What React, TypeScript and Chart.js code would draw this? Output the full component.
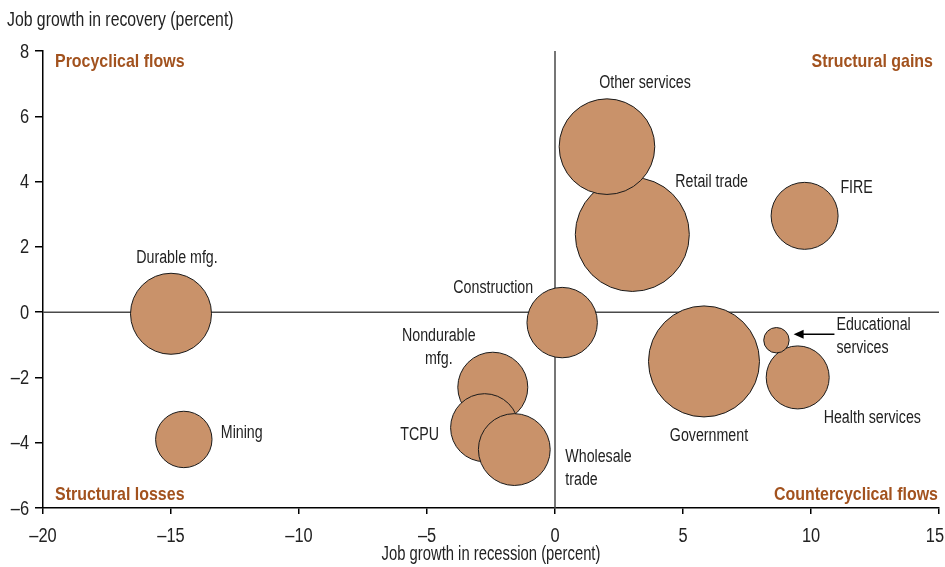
import React, { useEffect, useRef } from "react";
import Chart from "chart.js/auto";

const categories = [
  "Durable mfg.",
  "Mining",
  "Retail trade",
  "Other services",
  "FIRE",
  "Construction",
  "Nondurable mfg.",
  "TCPU",
  "Wholesale trade",
  "Government",
  "Health services",
  "Educational services",
];
const recessionGrowth = [-15.0, -14.5, 3.02, 2.03, 9.75, 0.28, -2.43, -2.75, -1.59, 5.82, 9.48, 8.65];
const recoveryGrowth = [-0.05, -3.9, 2.38, 5.07, 2.95, -0.32, -2.3, -3.54, -4.21, -1.51, -2.0, -0.86];
const bubbleSize = [41, 28.7, 57.5, 48.3, 34, 35.7, 35.5, 34.5, 36.4, 56, 32, 13.2];
const labelLines = [
  ["Durable mfg."],
  ["Mining"],
  ["Retail trade"],
  ["Other services"],
  ["FIRE"],
  ["Construction"],
  ["Nondurable", "mfg."],
  ["TCPU"],
  ["Wholesale", "trade"],
  ["Government"],
  ["Health services"],
  ["Educational", "services"],
];
const xTicks = [-20, -15, -10, -5, 0, 5, 10, 15];
const yTicks = [-6, -4, -2, 0, 2, 4, 6, 8];
const quadrantLabels = ["Procyclical flows", "Structural gains", "Structural losses", "Countercyclical flows"];
const xTitle = "Job growth in recession (percent)";
const yTitle = "Job growth in recovery (percent)";

// label placement relative to each bubble centre (layout only)
const labelPlacement: { dx: number; dy: number; align: CanvasTextAlign }[] = [
  { dx: 6, dy: -56, align: "center" },
  { dx: 37, dy: -6, align: "left" },
  { dx: 43, dy: -52, align: "left" },
  { dx: 38, dy: -64, align: "center" },
  { dx: 52, dy: -28, align: "center" },
  { dx: -29, dy: -35, align: "right" },
  { dx: -54, dy: -51, align: "center" },
  { dx: -65, dy: 7, align: "center" },
  { dx: 51, dy: 7, align: "left" },
  { dx: 5, dy: 75, align: "center" },
  { dx: 26, dy: 41, align: "left" },
  { dx: 60, dy: -15, align: "left" },
];

const FONT = '"Liberation Sans", Arial, sans-serif';
const BROWN = "#A2521E";
const TEXT = "#222222";

const fmt = (v: number) => (v < 0 ? "\u2013" + Math.abs(v) : String(v));

function narrowText(
  ctx: CanvasRenderingContext2D,
  text: string,
  x: number,
  y: number,
  align: CanvasTextAlign,
  font: string,
  sx: number,
  maxRight?: number
) {
  ctx.save();
  ctx.font = font;
  if (maxRight !== undefined) {
    const w = ctx.measureText(text).width * sx;
    const right = align === "center" ? x + w / 2 : align === "left" ? x + w : x;
    if (right > maxRight) x -= right - maxRight;
  }
  ctx.translate(x, y);
  ctx.scale(sx, 1);
  ctx.textAlign = align;
  ctx.textBaseline = "middle";
  ctx.fillText(text, 0, 0);
  ctx.restore();
}

export default function App() {
  const ref = useRef<HTMLCanvasElement | null>(null);

  useEffect(() => {
    if (!ref.current) return;
    const points = categories.map((c, i) => ({ x: recessionGrowth[i], y: recoveryGrowth[i], r: bubbleSize[i] - 0.5 }));

    const overlay = {
      id: "overlay",
      beforeDatasetsDraw(chart: any) {
        const { ctx, chartArea, scales } = chart;
        const x0 = scales.x.getPixelForValue(0);
        const y0 = scales.y.getPixelForValue(0);
        ctx.save();
        ctx.strokeStyle = "#4a4a4a";
        ctx.lineWidth = 1.5;
        ctx.beginPath();
        ctx.moveTo(chartArea.left, y0);
        ctx.lineTo(chartArea.right, y0);
        ctx.moveTo(x0, chartArea.top);
        ctx.lineTo(x0, chartArea.bottom);
        ctx.stroke();
        ctx.restore();
      },
      afterDatasetsDraw(chart: any) {
        const { ctx, chartArea, scales } = chart;
        const meta = chart.getDatasetMeta(0);
        ctx.save();
        ctx.fillStyle = TEXT;
        const labelFont = `18px ${FONT}`;
        meta.data.forEach((el: any, i: number) => {
          const p = labelPlacement[i];
          labelLines[i].forEach((line, k) => {
            narrowText(ctx, line, el.x + p.dx, el.y + p.dy + k * 23, p.align, labelFont, 0.79);
          });
        });
        // arrow for Educational services
        const edu = meta.data[11];
        const ay = edu.y - 6;
        const tipX = edu.x + bubbleSize[11] + 4;
        const startX = edu.x + labelPlacement[11].dx - 2;
        ctx.strokeStyle = "#000";
        ctx.lineWidth = 1.5;
        ctx.beginPath();
        ctx.moveTo(startX, ay);
        ctx.lineTo(tipX + 6, ay);
        ctx.stroke();
        ctx.fillStyle = "#000";
        ctx.beginPath();
        ctx.moveTo(tipX, ay);
        ctx.lineTo(tipX + 10, ay - 4.5);
        ctx.lineTo(tipX + 10, ay + 4.5);
        ctx.closePath();
        ctx.fill();

        // tick labels
        ctx.fillStyle = TEXT;
        const tickFont = `20px ${FONT}`;
        xTicks.forEach((v) => {
          narrowText(ctx, fmt(v), scales.x.getPixelForValue(v), chartArea.bottom + 28, "center", tickFont, 0.82, 944);
        });
        yTicks.forEach((v) => {
          narrowText(ctx, fmt(v), chartArea.left - 14, scales.y.getPixelForValue(v) + 1, "right", tickFont, 0.82);
        });

        // quadrant labels
        ctx.fillStyle = BROWN;
        const qFont = `bold 19px ${FONT}`;
        narrowText(ctx, quadrantLabels[0], chartArea.left + 12, chartArea.top + 11, "left", qFont, 0.84);
        narrowText(ctx, quadrantLabels[2], chartArea.left + 12, chartArea.bottom - 13, "left", qFont, 0.84);
        narrowText(ctx, quadrantLabels[1], chartArea.right - 6, chartArea.top + 11, "right", qFont, 0.84);
        narrowText(ctx, quadrantLabels[3], chartArea.right - 1, chartArea.bottom - 13, "right", qFont, 0.84);

        // axis titles
        ctx.fillStyle = TEXT;
        const tFont = `20px ${FONT}`;
        narrowText(ctx, yTitle, 7, 20, "left", tFont, 0.79);
        narrowText(ctx, xTitle, (chartArea.left + chartArea.right) / 2, 554, "center", tFont, 0.74);
        ctx.restore();
      },
    };

    const chart = new Chart(ref.current, {
      type: "bubble",
      data: {
        datasets: [
          {
            data: points,
            backgroundColor: "#C9926A",
            borderColor: "#1a1a1a",
            borderWidth: 1,
            hoverRadius: 0,
          },
        ],
      },
      options: {
        responsive: false,
        animation: false,
        events: [],
        layout: { autoPadding: false, padding: { top: 51, right: 6, left: 0, bottom: 0 } },
        plugins: { legend: { display: false }, tooltip: { enabled: false } },
        scales: {
          x: {
            type: "linear",
            min: -20,
            max: 15,
            afterBuildTicks: (s: any) => {
              s.ticks = xTicks.map((v) => ({ value: v }));
            },
            afterFit: (s: any) => {
              s.height = 59;
              s.paddingLeft = 0;
              s.paddingRight = 0;
            },
            ticks: {
              color: "rgba(0,0,0,0)",
              font: { size: 12 },
              maxRotation: 0,
            },
            grid: { drawOnChartArea: false, color: "#000", tickLength: 6, lineWidth: 1.5 },
            border: { color: "#000", width: 1.5 },
          },
          y: {
            type: "linear",
            min: -6,
            max: 8,
            afterBuildTicks: (s: any) => {
              s.ticks = yTicks.map((v) => ({ value: v }));
            },
            afterFit: (s: any) => {
              s.width = 43;
              s.paddingTop = 0;
              s.paddingBottom = 0;
            },
            ticks: {
              color: "rgba(0,0,0,0)",
              font: { size: 12 },
            },
            grid: { drawOnChartArea: false, color: "#000", tickLength: 8, lineWidth: 1.5 },
            border: { color: "#000", width: 1.5 },
          },
        },
      },
      plugins: [overlay],
    } as any);
    return () => chart.destroy();
  }, []);

  return (
    <div style={{ position: "absolute", left: 0, top: 0, width: 945, height: 567, background: "#fff" }}>
      <canvas ref={ref} width={945} height={567} />
    </div>
  );
}
